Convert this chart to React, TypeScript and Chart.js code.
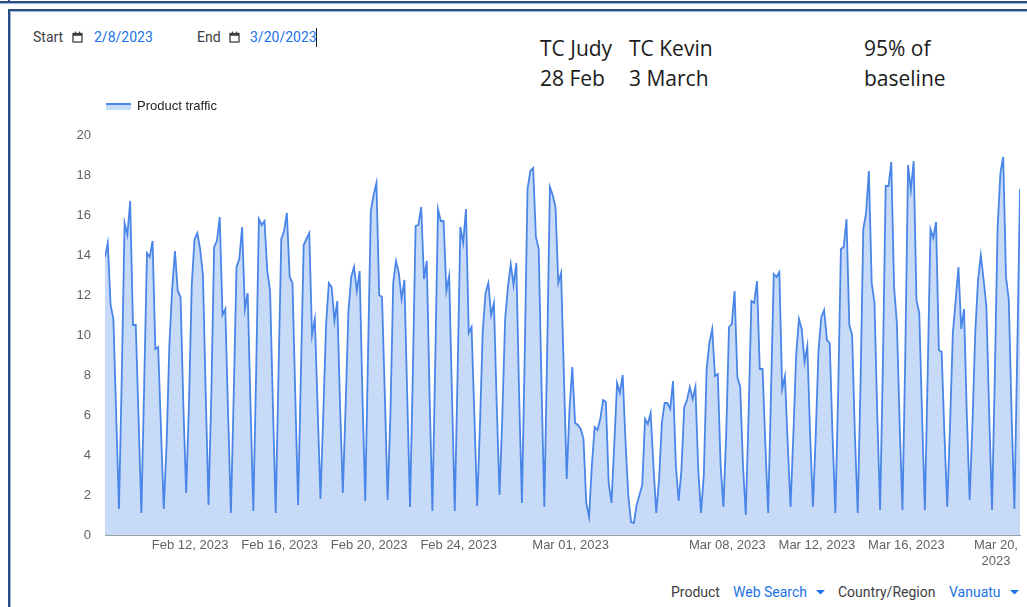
import React, { useEffect, useRef } from "react";
import { Chart, registerables } from "chart.js";

Chart.register(...registerables);

// Time is measured in days from 2023-02-08 00:00; one reading every 3 hours.
const START_DAY = 0.2;
const STEP_DAYS = 0.125;

const traffic: number[] = [
  13.9, 14.6, 11.5, 10.8, 6.0, 1.3,
  8.0, 15.6, 15.0, 16.7, 10.5, 10.5, 5.8, 1.1,
  7.5, 14.1, 13.9, 14.7, 9.3, 9.4, 5.3, 1.3,
  4.5, 9.5, 12.3, 14.2, 12.2, 11.9, 6.5, 2.1,
  6.5, 12.5, 14.8, 15.1, 14.3, 13.0, 7.0, 1.5,
  7.0, 14.4, 14.7, 15.9, 11.0, 11.3, 6.0, 1.1,
  7.0, 13.4, 13.8, 15.4, 11.3, 12.1, 6.5, 1.2,
  8.0, 15.8, 15.5, 15.7, 13.2, 12.2, 6.5, 1.1,
  8.0, 14.8, 15.2, 16.1, 12.9, 12.6, 7.0, 1.5,
  8.0, 14.5, 14.8, 15.1, 10.0, 10.8, 6.3, 1.8,
  6.0, 10.5, 12.6, 12.4, 10.7, 11.7, 6.5, 2.1,
  6.5, 11.2, 12.9, 13.4, 12.2, 13.2, 7.0, 1.7,
  9.0, 16.2, 17.0, 17.6, 12.0, 11.9, 7.0, 1.75,
  6.0, 12.6, 13.7, 13.1, 11.8, 12.75, 7.0, 1.4,
  8.0, 15.45, 15.5, 16.4, 12.8, 13.7, 7.0, 1.2,
  8.5, 16.3, 15.7, 15.7, 12.2, 12.95, 7.0, 1.2,
  8.0, 15.4, 14.6, 16.3, 10.1, 10.4, 6.0, 1.45,
  5.5, 10.2, 12.1, 12.6, 11.0, 11.6, 6.5, 2.0,
  6.0, 10.8, 12.4, 13.55, 12.5, 13.6, 7.0, 1.6,
  9.0, 17.3, 18.2, 18.35, 14.9, 14.3, 7.5, 1.4,
  9.0, 17.4, 17.0, 16.4, 12.6, 13.1, 8.0, 2.8,
  6.3, 8.4, 5.6, 5.5, 5.3, 4.8, 1.6, 0.9,
  3.5, 5.4, 5.25, 5.8, 6.75, 6.65, 2.6, 1.6,
  4.5, 7.6, 7.1, 8.0, 4.75, 2.0, 0.65, 0.6,
  1.5, 2.0, 2.5, 5.8, 5.55, 6.1, 3.5, 1.1,
  2.75, 5.6, 6.6, 6.6, 6.3, 7.7, 3.5, 1.7,
  3.25, 6.4, 6.75, 7.4, 6.8, 7.4, 3.3, 1.1,
  3.0, 8.3, 9.6, 10.3, 7.95, 8.05, 3.5, 1.4,
  5.0, 10.4, 10.55, 12.2, 7.9, 7.4, 3.5, 1.0,
  6.0, 11.7, 11.6, 12.7, 8.3, 8.3, 4.5, 1.1,
  7.0, 13.05, 12.9, 13.15, 7.3, 7.95, 4.5, 1.4,
  5.0, 9.0, 10.8, 10.3, 8.65, 9.45, 5.0, 1.4,
  5.0, 9.25, 10.9, 11.25, 9.75, 9.6, 5.0, 1.1,
  7.0, 14.3, 14.4, 15.8, 10.5, 10.0, 5.0, 1.1,
  7.5, 15.3, 16.1, 18.2, 12.6, 11.6, 6.0, 1.25,
  8.5, 17.45, 17.45, 18.65, 12.4, 10.6, 5.5, 1.25,
  9.0, 18.5, 17.25, 18.7, 11.75, 11.1, 6.0, 1.25,
  8.0, 15.3, 14.85, 15.65, 9.25, 9.15, 5.0, 1.4,
  5.5, 10.1, 11.7, 13.4, 10.3, 11.3, 6.0, 1.75,
  5.5, 10.1, 12.75, 14.0, 12.75, 11.4, 6.0, 1.25,
  8.0, 15.4, 18.1, 18.9, 12.9, 11.75, 6.0, 1.3,
  9.0, 17.3,
];

const tickDays: number[] = [4, 8, 12, 16, 21, 28, 32, 36, 40];
const tickLabels: (string | string[])[] = [
  "Feb 12, 2023",
  "Feb 16, 2023",
  "Feb 20, 2023",
  "Feb 24, 2023",
  "Mar 01, 2023",
  "Mar 08, 2023",
  "Mar 12, 2023",
  "Mar 16, 2023",
  ["Mar 20,", "2023"],
];

const Y_MIN = 0;
const Y_MAX = 20;
const Y_STEP = 2;

const LINE = "#4a86e8";
const FILL = "#c7daf8";
const AXIS_FONT = "'Liberation Sans', Arial, sans-serif";
const UI_FONT = "Roboto, 'Noto Sans', sans-serif";
const NOTE_FONT = "'Open Sans', 'Noto Sans', sans-serif";

type TProps = {
  x: number;
  y: number;
  size: number;
  color: string;
  family: string;
  children: React.ReactNode;
};

const T = ({ x, y, size, color, family, children }: TProps) => (
  <div
    style={{
      position: "absolute",
      left: x,
      top: y - size,
      height: size * 2,
      lineHeight: `${size * 2}px`,
      fontSize: size,
      fontFamily: family,
      color,
      whiteSpace: "nowrap",
    }}
  >
    {children}
  </div>
);

const CalIcon = ({ x, y }: { x: number; y: number }) => (
  <svg
    style={{ position: "absolute", left: x, top: y }}
    width="11"
    height="12"
    viewBox="0 0 11 12"
  >
    <rect x="1" y="2.5" width="9" height="8.5" fill="none" stroke="#3c4043" strokeWidth="1.3" />
    <rect x="1" y="2.5" width="9" height="2.3" fill="#3c4043" />
    <rect x="2.8" y="0.6" width="1.3" height="2.5" fill="#3c4043" />
    <rect x="6.9" y="0.6" width="1.3" height="2.5" fill="#3c4043" />
  </svg>
);

const Tri = ({ x, y }: { x: number; y: number }) => (
  <svg style={{ position: "absolute", left: x, top: y }} width="9" height="5" viewBox="0 0 9 5">
    <polygon points="0,0 9,0 4.5,4.5" fill="#1a73e8" />
  </svg>
);

function TrafficChart() {
  const ref = useRef<HTMLCanvasElement | null>(null);
  useEffect(() => {
    if (!ref.current) return;
    const points = traffic.map((v, i) => ({ x: START_DAY + i * STEP_DAYS, y: v }));
    const xMax = START_DAY + (traffic.length - 1) * STEP_DAYS;
    const chart = new Chart(ref.current, {
      type: "line",
      data: {
        datasets: [
          {
            label: "Product traffic",
            data: points,
            borderColor: LINE,
            backgroundColor: FILL,
            fill: "origin",
            borderWidth: 1.8,
            pointRadius: 0,
            tension: 0,
          },
        ],
      },
      options: {
        animation: false,
        responsive: false,
        maintainAspectRatio: false,
        layout: { padding: { top: 35, right: 7, left: 0, bottom: 0 } },
        plugins: { legend: { display: false }, tooltip: { enabled: false } },
        scales: {
          x: {
            type: "linear",
            min: START_DAY,
            max: xMax,
            grid: { display: false, drawTicks: false },
            border: { display: true, color: "#9aa0a6", width: 1 },
            afterBuildTicks: (s: any) => {
              s.ticks = tickDays.map((v) => ({ value: v }));
            },
            afterFit: (s: any) => {
              s.height = 40;
            },
            ticks: {
              autoSkip: false,
              maxRotation: 0,
              minRotation: 0,
              padding: 3,
              color: "#5f6368",
              font: { size: 13, family: AXIS_FONT },
              callback: (v: any) => {
                const k = tickDays.indexOf(Number(v));
                return k >= 0 ? tickLabels[k] : "";
              },
            },
          },
          y: {
            min: Y_MIN,
            max: Y_MAX,
            grid: { display: false, drawTicks: false },
            border: { display: false },
            afterFit: (s: any) => {
              s.width = 105;
            },
            ticks: {
              stepSize: Y_STEP,
              padding: 14,
              color: "#5f6368",
              font: { size: 13, family: AXIS_FONT },
            },
          },
        },
      },
    });
    return () => chart.destroy();
  }, []);
  return (
    <canvas
      ref={ref}
      width={1027}
      height={475}
      style={{ position: "absolute", left: 0, top: 100, width: 1027, height: 475 }}
    />
  );
}

export default function App() {
  return (
    <div
      style={{
        position: "fixed",
        left: 0,
        top: 0,
        width: 1027,
        height: 607,
        background: "#fff",
        overflow: "hidden",
      }}
    >
      {/* frame lines */}
      <div style={{ position: "absolute", left: 0, top: 1, width: 1027, height: 2, background: "#2e4c84" }} />
      <div style={{ position: "absolute", left: 0, top: 3, width: 1027, height: 1, background: "#9fb3d6" }} />
      <div style={{ position: "absolute", left: 8, top: 0, width: 2, height: 3, background: "#2e4c84" }} />
      <div style={{ position: "absolute", left: 8, top: 9, width: 1019, height: 2, background: "#2e4c84" }} />
      <div style={{ position: "absolute", left: 10, top: 11, width: 1017, height: 1, background: "#9fb3d6" }} />
      <div style={{ position: "absolute", left: 8, top: 9, width: 2, height: 598, background: "#2e4c84" }} />
      <div style={{ position: "absolute", left: 10, top: 11, width: 1, height: 596, background: "#9fb3d6" }} />

      <TrafficChart />

      {/* header controls */}
      <T x={33} y={37} size={14} color="#3c4043" family={UI_FONT}>Start</T>
      <CalIcon x={72} y={31} />
      <T x={94} y={37} size={14} color="#1a73e8" family={UI_FONT}>2/8/2023</T>
      <T x={197} y={37} size={14} color="#3c4043" family={UI_FONT}>End</T>
      <CalIcon x={229} y={31} />
      <T x={250} y={37} size={14} color="#1a73e8" family={UI_FONT}>3/20/2023</T>
      <div style={{ position: "absolute", left: 316, top: 28, width: 1, height: 19, background: "#202124" }} />

      {/* annotations */}
      <T x={540} y={48} size={21} color="#1b1b1b" family={NOTE_FONT}>TC Judy</T>
      <T x={540} y={78} size={21} color="#1b1b1b" family={NOTE_FONT}>28 Feb</T>
      <T x={629} y={48} size={21} color="#1b1b1b" family={NOTE_FONT}>TC Kevin</T>
      <T x={629} y={78} size={21} color="#1b1b1b" family={NOTE_FONT}>3 March</T>
      <T x={864} y={48} size={21} color="#1b1b1b" family={NOTE_FONT}>95% of</T>
      <T x={864} y={78} size={21} color="#1b1b1b" family={NOTE_FONT}>baseline</T>

      {/* legend */}
      <div
        style={{
          position: "absolute",
          left: 106,
          top: 103,
          width: 25,
          height: 5,
          background: FILL,
          borderTop: `2px solid ${LINE}`,
        }}
      />
      <T x={137} y={106} size={13} color="#222" family={AXIS_FONT}>Product traffic</T>

      {/* footer controls */}
      <T x={671} y={592} size={14} color="#3c4043" family={UI_FONT}>Product</T>
      <T x={733} y={592} size={14} color="#1a73e8" family={UI_FONT}>Web Search</T>
      <Tri x={816} y={590} />
      <T x={838} y={592} size={14} color="#3c4043" family={UI_FONT}>Country/Region</T>
      <T x={949} y={592} size={14} color="#1a73e8" family={UI_FONT}>Vanuatu</T>
      <Tri x={1010} y={590} />
    </div>
  );
}
